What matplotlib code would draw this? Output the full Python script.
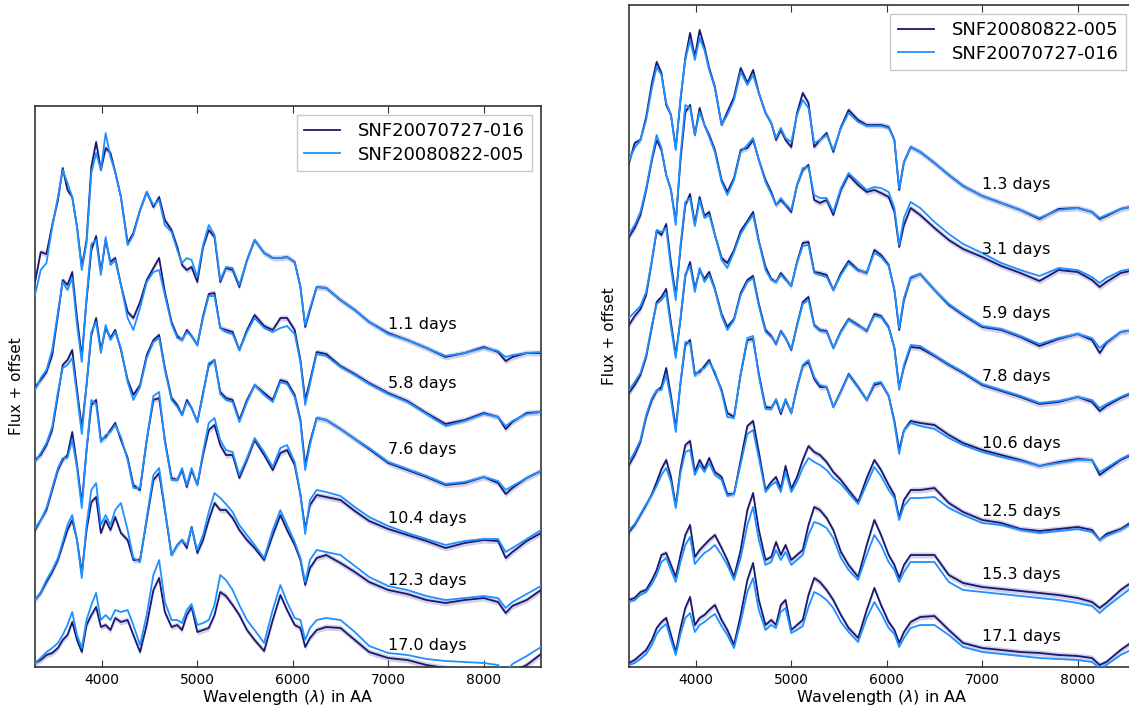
import matplotlib
matplotlib.use("Agg")
import matplotlib.pyplot as plt
import numpy as np

# ── Wavelength sampling (AA), shared by every spectrum ───────────────────────
wave = [3300, 3360, 3420, 3480, 3540, 3590, 3640, 3690, 3740, 3790,
        3840, 3890, 3940, 3990, 4040, 4090, 4140, 4200, 4270, 4330,
        4400, 4470, 4540, 4600, 4660, 4730, 4790, 4840, 4890, 4940,
        5000, 5060, 5120, 5180, 5240, 5300, 5370, 5440, 5520, 5600,
        5700, 5790, 5870, 5940, 6020, 6080, 6130, 6180, 6250, 6350,
        6500, 6650, 6800, 7000, 7200, 7400, 7600, 7800, 8000, 8150,
        8230, 8300, 8450, 8600]

# ── Left panel: SNF20070727-016 (dark) vs SNF20080822-005 (light) ───────────
left_names = ["SNF20070727-016", "SNF20080822-005"]
left_days = ["1.1 days", "5.8 days", "7.6 days", "10.4 days", "12.3 days", "17.0 days"]
left_label_y = [3.46, 2.87, 2.21, 1.52, 0.90, 0.25]

l_dark_01 = [3.88, 4.18, 4.16, 4.45, 4.70, 5.02, 4.80, 4.73, 4.43, 4.03,
             4.30, 5.03, 5.28, 5.00, 5.22, 5.17, 4.98, 4.73, 4.27, 4.37,
             4.60, 4.78, 4.63, 4.73, 4.50, 4.40, 4.23, 4.05, 4.00, 4.03,
             3.88, 4.23, 4.40, 4.33, 3.88, 4.02, 4.00, 3.83, 4.10, 4.30,
             4.17, 4.12, 4.12, 4.13, 4.08, 3.83, 3.43, 3.60, 3.83, 3.82,
             3.70, 3.60, 3.48, 3.37, 3.30, 3.22, 3.13, 3.17, 3.23, 3.18,
             3.09, 3.13, 3.17, 3.17]
l_light_01 = [3.75, 4.00, 4.07, 4.43, 4.73, 5.00, 4.87, 4.73, 4.43, 4.00,
              4.27, 4.97, 5.17, 5.00, 5.37, 5.13, 4.98, 4.73, 4.25, 4.35,
              4.60, 4.78, 4.65, 4.70, 4.45, 4.38, 4.20, 4.07, 4.12, 4.10,
              3.93, 4.25, 4.45, 4.35, 3.90, 4.03, 4.02, 3.85, 4.10, 4.30,
              4.17, 4.12, 4.12, 4.13, 4.08, 3.83, 3.45, 3.62, 3.83, 3.82,
              3.70, 3.60, 3.48, 3.36, 3.30, 3.22, 3.14, 3.17, 3.22, 3.19,
              3.13, 3.15, 3.17, 3.18]

l_dark_06 = [2.83, 2.90, 2.98, 3.15, 3.55, 3.90, 3.85, 3.98, 3.52, 3.13,
             3.70, 4.20, 4.34, 3.98, 4.30, 4.08, 4.12, 3.85, 3.58, 3.52,
             3.68, 3.90, 4.02, 4.12, 3.78, 3.48, 3.34, 3.30, 3.40, 3.34,
             3.25, 3.54, 3.76, 3.77, 3.42, 3.40, 3.38, 3.20, 3.40, 3.55,
             3.44, 3.40, 3.52, 3.52, 3.40, 3.10, 2.70, 2.89, 3.18, 3.16,
             3.04, 2.96, 2.87, 2.77, 2.69, 2.57, 2.46, 2.50, 2.57, 2.53,
             2.41, 2.48, 2.57, 2.58]
l_light_06 = [2.80, 2.92, 3.00, 3.20, 3.58, 3.88, 3.80, 3.92, 3.45, 3.08,
              3.72, 4.26, 4.30, 3.95, 4.33, 4.05, 4.10, 3.85, 3.52, 3.40,
              3.62, 3.88, 3.98, 4.00, 3.75, 3.46, 3.32, 3.30, 3.38, 3.34,
              3.25, 3.52, 3.74, 3.74, 3.42, 3.38, 3.36, 3.20, 3.38, 3.52,
              3.42, 3.38, 3.42, 3.44, 3.36, 3.08, 2.65, 2.86, 3.16, 3.14,
              3.03, 2.95, 2.86, 2.76, 2.68, 2.56, 2.44, 2.49, 2.56, 2.53,
              2.44, 2.49, 2.56, 2.58]

l_dark_08 = [2.10, 2.15, 2.25, 2.40, 2.75, 3.05, 3.10, 3.20, 2.80, 2.42,
             2.85, 3.35, 3.52, 3.20, 3.42, 3.32, 3.40, 3.20, 2.90, 2.75,
             2.85, 3.15, 3.30, 3.35, 3.02, 2.72, 2.65, 2.55, 2.70, 2.62,
             2.48, 2.77, 3.05, 3.10, 2.78, 2.72, 2.70, 2.50, 2.70, 2.85,
             2.77, 2.70, 2.90, 2.88, 2.75, 2.50, 2.05, 2.28, 2.52, 2.50,
             2.41, 2.31, 2.21, 2.07, 2.00, 1.93, 1.85, 1.87, 1.93, 1.87,
             1.76, 1.82, 1.92, 1.99]
l_light_08 = [2.08, 2.17, 2.27, 2.43, 2.78, 3.02, 3.05, 3.12, 2.75, 2.36,
              2.85, 3.38, 3.48, 3.17, 3.45, 3.30, 3.38, 3.22, 2.88, 2.70,
              2.83, 3.12, 3.28, 3.32, 3.00, 2.70, 2.63, 2.55, 2.68, 2.62,
              2.48, 2.75, 3.07, 3.10, 2.76, 2.70, 2.68, 2.48, 2.68, 2.85,
              2.75, 2.68, 2.88, 2.86, 2.73, 2.48, 2.00, 2.25, 2.52, 2.50,
              2.41, 2.31, 2.22, 2.08, 2.01, 1.94, 1.86, 1.88, 1.93, 1.89,
              1.80, 1.84, 1.92, 1.99]

l_dark_10 = [1.40, 1.50, 1.60, 1.80, 2.00, 2.10, 2.15, 2.38, 2.05, 1.67,
             2.20, 2.65, 2.70, 2.30, 2.33, 2.40, 2.47, 2.30, 2.12, 1.85,
             1.80, 2.30, 2.70, 2.72, 2.30, 1.92, 1.90, 2.00, 1.83, 2.00,
             1.85, 2.15, 2.40, 2.45, 2.25, 2.15, 2.15, 1.92, 2.10, 2.30,
             2.15, 2.00, 2.17, 2.20, 2.05, 1.75, 1.41, 1.65, 1.75, 1.73,
             1.70, 1.59, 1.49, 1.41, 1.35, 1.29, 1.22, 1.27, 1.30, 1.29,
             1.12, 1.18, 1.29, 1.37]
l_light_10 = [1.42, 1.50, 1.62, 1.82, 2.02, 2.12, 2.12, 2.30, 2.02, 1.62,
              2.20, 2.70, 2.66, 2.28, 2.35, 2.38, 2.45, 2.33, 2.10, 1.82,
              1.82, 2.30, 2.74, 2.78, 2.28, 1.90, 1.90, 2.02, 1.85, 2.02,
              1.85, 2.18, 2.47, 2.52, 2.30, 2.20, 2.18, 1.95, 2.12, 2.32,
              2.18, 2.03, 2.22, 2.25, 2.08, 1.76, 1.36, 1.70, 1.80, 1.78,
              1.74, 1.63, 1.53, 1.44, 1.37, 1.31, 1.25, 1.29, 1.31, 1.31,
              1.18, 1.22, 1.31, 1.40]

l_dark_12 = [0.70, 0.77, 0.88, 0.98, 1.10, 1.25, 1.40, 1.50, 1.30, 0.97,
             1.40, 1.68, 1.73, 1.37, 1.50, 1.40, 1.53, 1.37, 1.30, 1.10,
             1.10, 1.50, 1.90, 1.97, 1.60, 1.15, 1.25, 1.30, 1.22, 1.43,
             1.17, 1.30, 1.50, 1.67, 1.60, 1.60, 1.52, 1.40, 1.30, 1.22,
             1.10, 1.35, 1.55, 1.40, 1.25, 1.10, 0.85, 1.02, 1.12, 1.15,
             1.07, 0.98, 0.88, 0.80, 0.76, 0.70, 0.67, 0.70, 0.72, 0.68,
             0.57, 0.64, 0.70, 0.80]
l_light_12 = [0.70, 0.78, 0.90, 1.00, 1.12, 1.28, 1.45, 1.55, 1.30, 0.92,
              1.45, 1.80, 1.87, 1.45, 1.55, 1.45, 1.60, 1.67, 1.40, 1.12,
              1.08, 1.52, 1.95, 2.02, 1.62, 1.15, 1.25, 1.30, 1.25, 1.42,
              1.20, 1.35, 1.58, 1.77, 1.72, 1.66, 1.58, 1.45, 1.35, 1.25,
              1.12, 1.40, 1.60, 1.45, 1.28, 1.12, 0.88, 1.10, 1.20, 1.18,
              1.15, 1.04, 0.93, 0.84, 0.80, 0.74, 0.70, 0.72, 0.74, 0.72,
              0.62, 0.68, 0.76, 0.84]

l_dark_17 = [0.07, 0.10, 0.15, 0.17, 0.22, 0.30, 0.35, 0.48, 0.30, 0.18,
             0.45, 0.55, 0.63, 0.43, 0.45, 0.40, 0.52, 0.48, 0.50, 0.35,
             0.18, 0.45, 0.80, 0.92, 0.58, 0.43, 0.45, 0.40, 0.55, 0.63,
             0.38, 0.40, 0.42, 0.55, 0.78, 0.74, 0.65, 0.55, 0.40, 0.30,
             0.19, 0.50, 0.75, 0.60, 0.45, 0.42, 0.23, 0.32, 0.40, 0.43,
             0.42, 0.30, 0.18, 0.12, 0.10, 0.05, 0.02, 0.00, -0.02, -0.05,
             -0.13, -0.02, 0.05, 0.16]
l_light_17 = [0.07, 0.12, 0.18, 0.22, 0.27, 0.35, 0.45, 0.58, 0.35, 0.22,
              0.50, 0.65, 0.77, 0.50, 0.55, 0.50, 0.60, 0.58, 0.60, 0.45,
              0.25, 0.55, 0.95, 1.10, 0.68, 0.50, 0.50, 0.47, 0.60, 0.66,
              0.45, 0.47, 0.50, 0.65, 0.95, 0.90, 0.80, 0.65, 0.50, 0.40,
              0.27, 0.60, 0.85, 0.68, 0.52, 0.50, 0.30, 0.42, 0.50, 0.52,
              0.50, 0.38, 0.24, 0.17, 0.15, 0.11, 0.09, 0.08, 0.07, 0.05,
              -0.03, 0.06, 0.14, 0.23]

# ── Right panel: SNF20080822-005 (dark) vs SNF20070727-016 (light) ──────────
right_names = ["SNF20080822-005", "SNF20070727-016"]
right_days = ["1.3 days", "3.1 days", "5.9 days", "7.8 days",
              "10.6 days", "12.5 days", "15.3 days", "17.1 days"]
right_label_y = [4.85, 4.20, 3.57, 2.94, 2.27, 1.59, 0.96, 0.34]

r_dark_01 = [5.07, 5.27, 5.30, 5.53, 5.87, 6.08, 5.97, 5.65, 5.55, 5.22,
             5.70, 6.12, 6.37, 6.13, 6.40, 6.23, 6.02, 5.83, 5.45, 5.58,
             5.73, 6.02, 5.87, 6.00, 5.77, 5.57, 5.47, 5.30, 5.40, 5.30,
             5.23, 5.57, 5.77, 5.67, 5.23, 5.30, 5.37, 5.18, 5.43, 5.60,
             5.50, 5.45, 5.45, 5.45, 5.43, 5.30, 4.80, 5.08, 5.23, 5.18,
             5.07, 4.95, 4.84, 4.74, 4.67, 4.60, 4.51, 4.61, 4.62, 4.58,
             4.51, 4.54, 4.61, 4.64]
r_light_01 = [5.10, 5.22, 5.30, 5.50, 5.82, 6.03, 5.95, 5.67, 5.55, 5.20,
              5.72, 6.10, 6.30, 6.10, 6.32, 6.20, 6.00, 5.82, 5.45, 5.55,
              5.70, 5.98, 5.85, 5.95, 5.77, 5.57, 5.47, 5.32, 5.42, 5.32,
              5.28, 5.55, 5.70, 5.62, 5.27, 5.30, 5.35, 5.20, 5.42, 5.57,
              5.48, 5.44, 5.44, 5.44, 5.42, 5.30, 4.82, 5.08, 5.23, 5.18,
              5.07, 4.95, 4.84, 4.74, 4.67, 4.60, 4.52, 4.60, 4.62, 4.58,
              4.52, 4.55, 4.61, 4.64]

r_dark_03 = [4.33, 4.42, 4.55, 4.80, 5.10, 5.30, 5.20, 4.95, 4.80, 4.48,
             5.10, 5.58, 5.65, 5.35, 5.62, 5.45, 5.35, 5.20, 4.90, 4.78,
             4.92, 5.20, 5.22, 5.30, 5.10, 4.90, 4.78, 4.65, 4.70, 4.65,
             4.58, 4.85, 5.00, 5.05, 4.70, 4.67, 4.70, 4.55, 4.80, 4.95,
             4.85, 4.78, 4.80, 4.77, 4.73, 4.58, 4.23, 4.45, 4.62, 4.55,
             4.42, 4.30, 4.21, 4.13, 4.04, 3.97, 3.89, 4.00, 3.98, 3.90,
             3.83, 3.88, 3.97, 4.00]
r_light_03 = [4.36, 4.45, 4.58, 4.82, 5.12, 5.35, 5.22, 4.95, 4.80, 4.45,
              5.15, 5.65, 5.62, 5.35, 5.58, 5.45, 5.33, 5.18, 4.88, 4.75,
              4.90, 5.18, 5.25, 5.32, 5.10, 4.88, 4.76, 4.65, 4.72, 4.66,
              4.60, 4.85, 5.02, 5.03, 4.75, 4.72, 4.72, 4.58, 4.82, 4.97,
              4.88, 4.80, 4.83, 4.82, 4.78, 4.62, 4.25, 4.52, 4.68, 4.62,
              4.48, 4.36, 4.26, 4.17, 4.07, 4.00, 3.94, 4.02, 4.00, 3.93,
              3.87, 3.92, 3.99, 4.02]

r_dark_06 = [3.45, 3.54, 3.61, 3.75, 4.09, 4.39, 4.35, 4.46, 4.07, 3.74,
             4.22, 4.65, 4.76, 4.46, 4.73, 4.54, 4.58, 4.35, 4.12, 4.07,
             4.20, 4.39, 4.49, 4.58, 4.29, 4.03, 3.91, 3.88, 3.97, 3.91,
             3.84, 4.08, 4.27, 4.28, 3.98, 3.97, 3.95, 3.80, 3.97, 4.09,
             4.00, 3.97, 4.20, 4.15, 4.05, 3.80, 3.40, 3.70, 3.92, 3.96,
             3.80, 3.65, 3.55, 3.43, 3.40, 3.33, 3.24, 3.31, 3.36, 3.30,
             3.17, 3.27, 3.38, 3.40]
r_light_06 = [3.52, 3.58, 3.64, 3.78, 4.10, 4.40, 4.38, 4.42, 4.02, 3.70,
              4.25, 4.68, 4.72, 4.44, 4.70, 4.52, 4.55, 4.35, 4.10, 4.02,
              4.18, 4.36, 4.47, 4.55, 4.28, 4.00, 3.90, 3.88, 3.95, 3.90,
              3.84, 4.07, 4.24, 4.25, 3.97, 3.95, 3.93, 3.80, 3.95, 4.07,
              3.99, 3.98, 4.17, 4.13, 4.04, 3.80, 3.42, 3.72, 3.93, 3.96,
              3.80, 3.66, 3.56, 3.44, 3.41, 3.34, 3.26, 3.32, 3.36, 3.32,
              3.22, 3.28, 3.38, 3.40]

r_dark_08 = [2.77, 2.85, 2.95, 3.13, 3.43, 3.68, 3.73, 3.81, 3.47, 3.15,
             3.51, 3.94, 4.08, 3.81, 4.00, 3.91, 3.98, 3.81, 3.56, 3.43,
             3.51, 3.77, 3.90, 3.94, 3.66, 3.40, 3.34, 3.26, 3.39, 3.32,
             3.20, 3.45, 3.68, 3.73, 3.45, 3.40, 3.39, 3.22, 3.39, 3.51,
             3.45, 3.39, 3.56, 3.54, 3.43, 3.22, 2.83, 3.03, 3.23, 3.22,
             3.14, 3.05, 2.97, 2.85, 2.79, 2.73, 2.66, 2.68, 2.73, 2.68,
             2.59, 2.64, 2.72, 2.78]
r_light_08 = [2.80, 2.88, 2.97, 3.15, 3.45, 3.66, 3.70, 3.76, 3.43, 3.12,
              3.52, 3.96, 4.04, 3.78, 4.02, 3.88, 3.95, 3.80, 3.54, 3.40,
              3.50, 3.75, 3.88, 3.92, 3.64, 3.38, 3.33, 3.27, 3.38, 3.32,
              3.21, 3.44, 3.66, 3.70, 3.44, 3.39, 3.38, 3.22, 3.38, 3.50,
              3.44, 3.40, 3.54, 3.53, 3.42, 3.22, 2.80, 3.05, 3.25, 3.24,
              3.15, 3.06, 2.98, 2.86, 2.80, 2.74, 2.67, 2.69, 2.73, 2.70,
              2.62, 2.66, 2.73, 2.79]

r_dark_11 = [2.05, 2.15, 2.28, 2.53, 2.70, 2.79, 2.83, 3.02, 2.74, 2.42,
             2.87, 3.25, 3.30, 2.96, 2.98, 3.04, 3.10, 2.96, 2.80, 2.57,
             2.53, 2.96, 3.30, 3.31, 2.96, 2.63, 2.62, 2.70, 2.56, 2.70,
             2.57, 2.83, 3.04, 3.08, 2.91, 2.83, 2.83, 2.63, 2.79, 2.96,
             2.83, 2.70, 2.85, 2.87, 2.74, 2.49, 2.20, 2.40, 2.49, 2.47,
             2.45, 2.35, 2.27, 2.20, 2.15, 2.10, 2.04, 2.08, 2.11, 2.10,
             1.95, 2.00, 2.10, 2.17]
r_light_11 = [2.08, 2.18, 2.30, 2.55, 2.72, 2.80, 2.80, 2.95, 2.70, 2.38,
              2.88, 3.28, 3.27, 2.94, 3.00, 3.02, 3.08, 2.98, 2.78, 2.53,
              2.52, 2.96, 3.32, 3.34, 2.94, 2.61, 2.61, 2.71, 2.58, 2.71,
              2.57, 2.82, 3.05, 3.10, 2.93, 2.85, 2.83, 2.63, 2.78, 2.95,
              2.82, 2.70, 2.87, 2.88, 2.74, 2.47, 2.16, 2.40, 2.47, 2.44,
              2.41, 2.32, 2.25, 2.18, 2.13, 2.09, 2.04, 2.07, 2.10, 2.10,
              1.98, 2.02, 2.11, 2.18]

r_dark_12 = [1.38, 1.45, 1.55, 1.65, 1.76, 1.88, 2.01, 2.10, 1.93, 1.64,
             2.01, 2.25, 2.29, 1.98, 2.10, 2.01, 2.12, 1.98, 1.93, 1.76,
             1.76, 2.10, 2.44, 2.49, 2.18, 1.80, 1.88, 1.93, 1.81, 2.04,
             1.81, 1.93, 2.10, 2.24, 2.18, 2.15, 2.08, 1.98, 1.90, 1.80,
             1.68, 1.92, 2.10, 2.00, 1.85, 1.75, 1.52, 1.70, 1.80, 1.80,
             1.82, 1.67, 1.58, 1.50, 1.47, 1.41, 1.39, 1.41, 1.43, 1.40,
             1.30, 1.36, 1.41, 1.50]
r_light_12 = [1.40, 1.46, 1.56, 1.66, 1.75, 1.84, 1.95, 2.02, 1.88, 1.62,
              1.97, 2.18, 2.20, 1.95, 2.05, 1.98, 2.07, 1.95, 1.90, 1.74,
              1.76, 2.06, 2.36, 2.40, 2.12, 1.78, 1.85, 1.88, 1.78, 1.98,
              1.78, 1.88, 2.02, 2.12, 2.08, 2.05, 2.00, 1.92, 1.86, 1.77,
              1.66, 1.86, 2.03, 1.94, 1.80, 1.72, 1.50, 1.64, 1.72, 1.72,
              1.73, 1.62, 1.55, 1.47, 1.45, 1.40, 1.37, 1.39, 1.41, 1.38,
              1.30, 1.34, 1.40, 1.48]

r_dark_15 = [0.70, 0.72, 0.78, 0.80, 0.90, 1.00, 1.15, 1.17, 1.05, 0.93,
             1.15, 1.35, 1.45, 1.13, 1.20, 1.25, 1.30, 1.35, 1.22, 1.10,
             0.93, 1.20, 1.60, 1.77, 1.40, 1.10, 1.13, 1.28, 1.15, 1.25,
             1.10, 1.15, 1.20, 1.45, 1.63, 1.60, 1.52, 1.40, 1.18, 1.05,
             0.93, 1.25, 1.50, 1.35, 1.15, 1.05, 0.92, 1.05, 1.15, 1.15,
             1.15, 0.95, 0.87, 0.83, 0.81, 0.79, 0.77, 0.75, 0.72, 0.68,
             0.62, 0.67, 0.80, 0.90]
r_light_15 = [0.68, 0.70, 0.75, 0.78, 0.86, 0.95, 1.08, 1.12, 1.00, 0.88,
              1.08, 1.25, 1.33, 1.06, 1.12, 1.17, 1.20, 1.25, 1.15, 1.05,
              0.90, 1.12, 1.45, 1.63, 1.30, 1.05, 1.08, 1.20, 1.10, 1.18,
              1.05, 1.10, 1.15, 1.35, 1.48, 1.46, 1.42, 1.32, 1.12, 1.00,
              0.90, 1.15, 1.35, 1.25, 1.08, 1.00, 0.88, 0.98, 1.08, 1.08,
              1.08, 0.88, 0.80, 0.78, 0.76, 0.74, 0.72, 0.70, 0.67, 0.64,
              0.57, 0.63, 0.74, 0.85]

r_dark_17 = [0.07, 0.10, 0.15, 0.20, 0.30, 0.42, 0.48, 0.52, 0.35, 0.18,
             0.42, 0.62, 0.73, 0.45, 0.52, 0.55, 0.60, 0.65, 0.50, 0.40,
             0.25, 0.55, 0.90, 1.07, 0.70, 0.45, 0.50, 0.45, 0.65, 0.70,
             0.40, 0.45, 0.50, 0.75, 0.92, 0.88, 0.80, 0.70, 0.55, 0.42,
             0.32, 0.60, 0.82, 0.65, 0.48, 0.40, 0.27, 0.38, 0.48, 0.53,
             0.54, 0.40, 0.27, 0.22, 0.20, 0.18, 0.17, 0.15, 0.14, 0.12,
             0.05, 0.08, 0.20, 0.30]
r_light_17 = [0.05, 0.07, 0.11, 0.16, 0.25, 0.36, 0.42, 0.46, 0.30, 0.15,
              0.36, 0.52, 0.57, 0.38, 0.45, 0.48, 0.52, 0.56, 0.44, 0.35,
              0.22, 0.48, 0.78, 0.92, 0.60, 0.40, 0.45, 0.42, 0.58, 0.62,
              0.37, 0.40, 0.44, 0.63, 0.78, 0.75, 0.70, 0.62, 0.48, 0.38,
              0.28, 0.52, 0.68, 0.57, 0.42, 0.36, 0.23, 0.32, 0.42, 0.45,
              0.45, 0.35, 0.23, 0.18, 0.16, 0.14, 0.12, 0.11, 0.10, 0.08,
              0.02, 0.05, 0.15, 0.22]

left_dark = [l_dark_01, l_dark_06, l_dark_08, l_dark_10, l_dark_12, l_dark_17]
left_light = [l_light_01, l_light_06, l_light_08, l_light_10, l_light_12, l_light_17]
right_dark = [r_dark_01, r_dark_03, r_dark_06, r_dark_08,
              r_dark_11, r_dark_12, r_dark_15, r_dark_17]
right_light = [r_light_01, r_light_03, r_light_06, r_light_08,
               r_light_11, r_light_12, r_light_15, r_light_17]

DARK = "#191970"
LIGHT = "#1e90ff"
BAND = "#9b97d0"
flux_err = 0.03


def draw_panel(ax, darks, lights, days, label_y, names, ylim):
    w = np.array(wave, dtype=float)
    for i, (d, l) in enumerate(zip(darks, lights)):
        d = np.array(d)
        ax.fill_between(w, d - flux_err, d + flux_err, color=BAND,
                        alpha=0.45, lw=0, zorder=1)
        ax.plot(w, d, color=DARK, lw=1.3, zorder=2,
                label=names[0] if i == 0 else None)
        ax.plot(w, l, color=LIGHT, lw=1.3, zorder=3,
                label=names[1] if i == 0 else None)
        ax.text(7000, label_y[i], days[i], fontsize=11.5, ha="left", va="center")

    ax.set_xlim(3300, 8600)
    ax.set_ylim(*ylim)
    ax.set_xticks([4000, 5000, 6000, 7000, 8000])
    ax.set_yticks([])
    ax.tick_params(axis="x", direction="in", top=True, length=5,
                   labelsize=10, pad=4, color="#333333")
    for sp in ax.spines.values():
        sp.set_color("#333333")
        sp.set_linewidth(1.2)
    ax.set_xlabel(r"Wavelength ($\lambda$) in AA", fontsize=11.5, labelpad=1)
    ax.set_ylabel("Flux + offset", fontsize=11)
    leg = ax.legend(loc="upper right", fontsize=13, fancybox=False,
                    handlelength=2.0, handletextpad=1.0, labelspacing=0.3,
                    borderpad=0.4, framealpha=1)
    leg.get_frame().set_edgecolor("#c8c8c8")
    leg.get_frame().set_linewidth(1.0)


fig = plt.figure(figsize=(11.29, 7.13), dpi=100)
ax_l = fig.add_axes([0.0310, 0.0645, 0.4482, 0.7868])
ax_r = fig.add_axes([0.5571, 0.0645, 0.4482, 0.9285])

draw_panel(ax_l, left_dark, left_light, left_days, left_label_y, left_names, (0.03, 5.64))
draw_panel(ax_r, right_dark, right_light, right_days, right_label_y, right_names, (0.03, 6.65))

ax_l.yaxis.set_label_coords(-0.022, 0.5)
ax_r.yaxis.set_label_coords(-0.024, 0.5)

fig.savefig("out.png", dpi=100)
